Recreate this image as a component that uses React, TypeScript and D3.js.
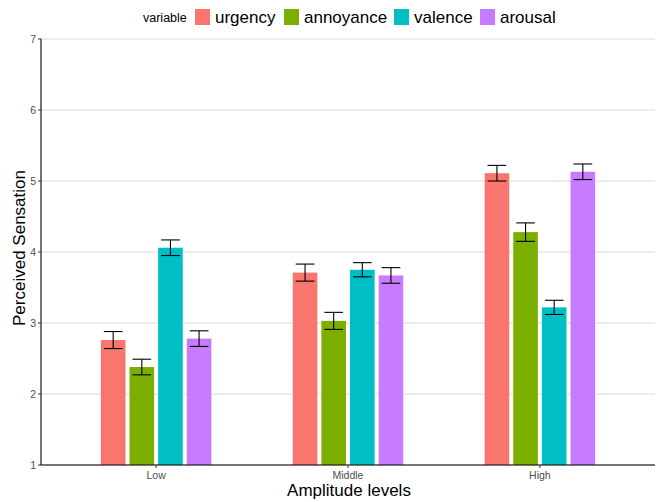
import React from "react";
import * as d3 from "d3";

const categories = ["Low", "Middle", "High"];
const variables = ["urgency", "annoyance", "valence", "arousal"];
const colors = ["#F8766D", "#7CAE00", "#00BFC4", "#C77CFF"];
// values[variable][category]
const means = [
  [2.76, 3.71, 5.11],
  [2.38, 3.03, 4.28],
  [4.06, 3.75, 3.22],
  [2.78, 3.67, 5.13],
];
const errors = [
  [0.12, 0.12, 0.11],
  [0.11, 0.12, 0.13],
  [0.11, 0.1, 0.1],
  [0.11, 0.11, 0.11],
];
const yTicks = [1, 2, 3, 4, 5, 6, 7];

const W = 660, H = 502;
const M = { left: 41, right: 655, top: 39, bottom: 465 };
const FONT = "Liberation Sans, Arial, Helvetica, sans-serif";

export default function App() {
  const y = d3.scaleLinear().domain([1, 7]).range([M.bottom, M.top]);
  const x = d3.scaleBand().domain(categories).range([M.left, M.right]).paddingInner(0.4).paddingOuter(0.3);
  const inner = d3.scaleBand().domain(variables).range([0, x.bandwidth() * 0.96]).paddingInner(0.14);
  const groupW = x.bandwidth() * 0.96;
  const barW = inner.bandwidth();
  const capW = barW * 0.76;

  const legendItems = [
    { label: "urgency", kx: 195, tx: 215 },
    { label: "annoyance", kx: 284, tx: 304 },
    { label: "valence", kx: 394, tx: 414 },
    { label: "arousal", kx: 480, tx: 500 },
  ];

  return (
    <svg width={W} height={H} style={{ position: "absolute", left: 0, top: 0, background: "#fff" }} fontFamily={FONT}>
      {yTicks.map((t) => (
        <line key={"g" + t} x1={M.left} x2={M.right} y1={y(t)} y2={y(t)} stroke="#d9d9d9" strokeWidth={1} />
      ))}
      {categories.map((c, ci) => {
        const cx = (x(c) as number) + x.bandwidth() / 2;
        const gx = cx - groupW / 2;
        return variables.map((v, vi) => {
          const bx = gx + (inner(v) as number);
          const m = means[vi][ci];
          const e = errors[vi][ci];
          const mid = bx + barW / 2;
          return (
            <g key={c + v}>
              <rect x={bx} y={y(m)} width={barW} height={y(1) - y(m)} fill={colors[vi]} />
              <line x1={mid} x2={mid} y1={y(m + e)} y2={y(m - e)} stroke="#000" strokeWidth={1.1} />
              <line x1={mid - capW / 2} x2={mid + capW / 2} y1={y(m + e)} y2={y(m + e)} stroke="#000" strokeWidth={1.1} />
              <line x1={mid - capW / 2} x2={mid + capW / 2} y1={y(m - e)} y2={y(m - e)} stroke="#000" strokeWidth={1.1} />
            </g>
          );
        });
      })}
      <line x1={M.left} x2={M.left} y1={M.top} y2={M.bottom} stroke="#000" strokeWidth={1.1} />
      <line x1={M.left} x2={M.right} y1={M.bottom} y2={M.bottom} stroke="#000" strokeWidth={1.1} />
      {yTicks.map((t) => (
        <g key={"t" + t}>
          <line x1={M.left - 3} x2={M.left} y1={y(t)} y2={y(t)} stroke="#333" strokeWidth={1} />
          <text x={M.left - 5} y={y(t)} dy="0.35em" textAnchor="end" fontSize={10.5} fill="#4d4d4d">{t}</text>
        </g>
      ))}
      {categories.map((c) => {
        const cx = (x(c) as number) + x.bandwidth() / 2;
        return (
          <g key={"x" + c}>
            <line x1={cx} x2={cx} y1={M.bottom} y2={M.bottom + 3} stroke="#333" strokeWidth={1} />
            <text x={cx} y={M.bottom + 14} textAnchor="middle" fontSize={10.5} fill="#4d4d4d">{c}</text>
          </g>
        );
      })}
      <text x={349} y={496} textAnchor="middle" fontSize={17} fill="#000">Amplitude levels</text>
      <text transform={`translate(25,248) rotate(-90)`} textAnchor="middle" fontSize={17} fill="#000">Perceived Sensation</text>
      <text x={143} y={22} fontSize={12.5} fill="#000">variable</text>
      {legendItems.map((it, i) => (
        <g key={"l" + it.label}>
          <rect x={it.kx} y={9} width={15} height={16} fill={colors[i]} />
          <text x={it.tx} y={23} fontSize={17} fill="#000">{it.label}</text>
        </g>
      ))}
    </svg>
  );
}
